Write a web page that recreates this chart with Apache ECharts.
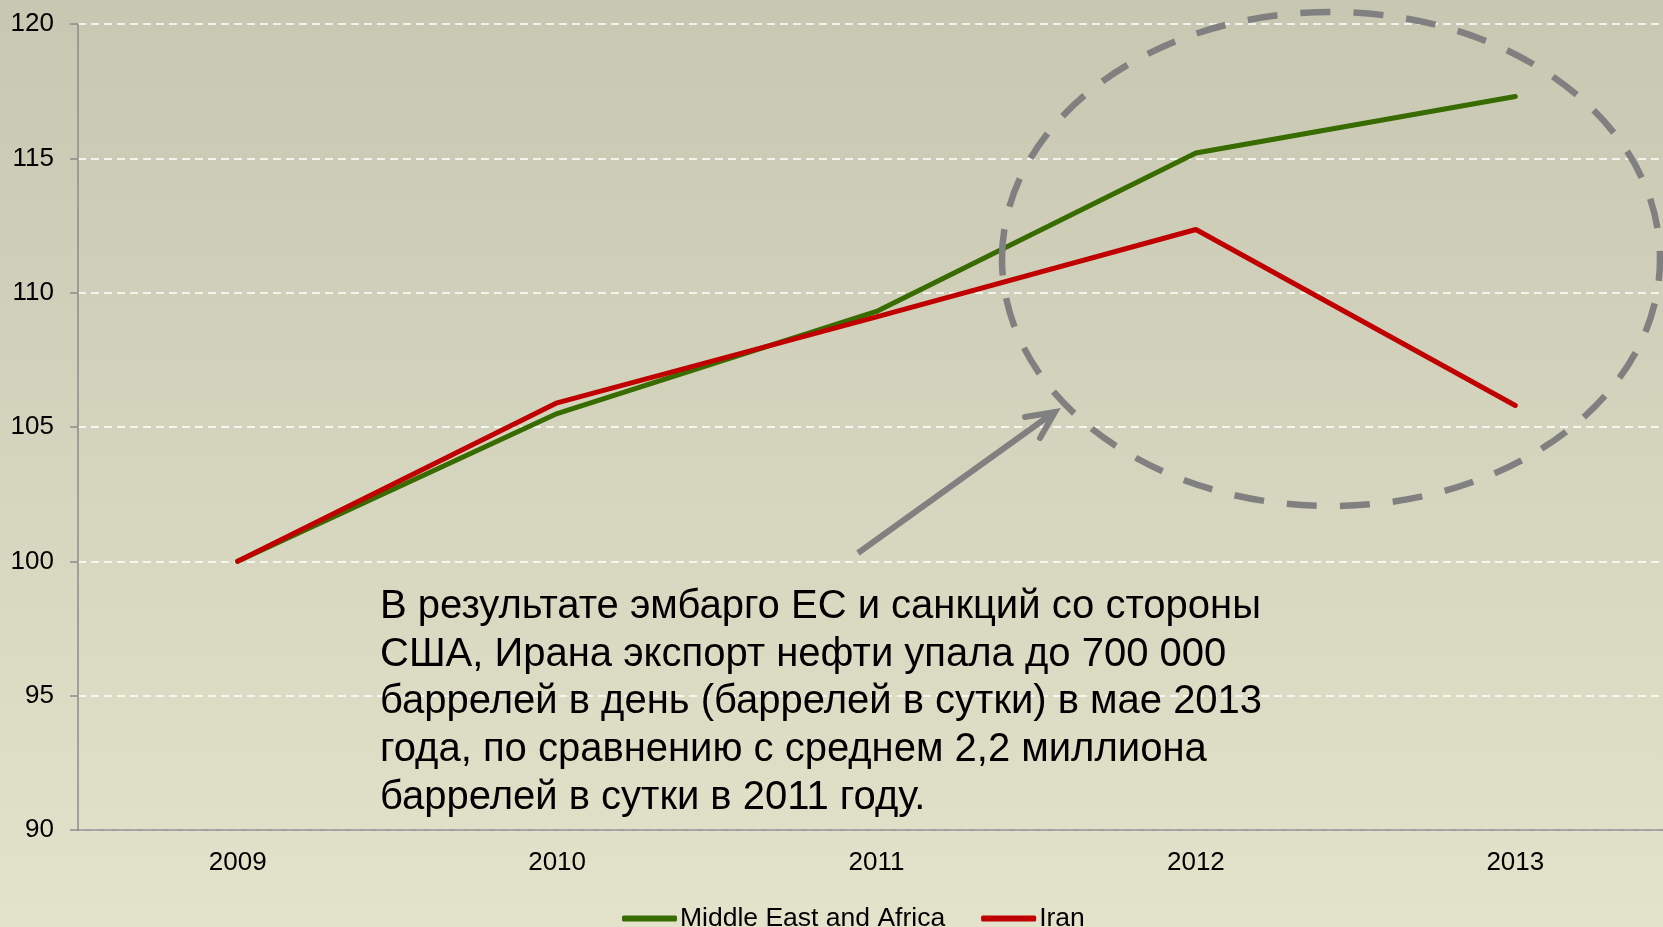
<!DOCTYPE html>
<html>
<head>
<meta charset="utf-8">
<title>Middle East and Africa vs Iran</title>
<script src="https://cdn.jsdelivr.net/npm/echarts@6/dist/echarts.min.js"></script>
<style>
  html, body { margin: 0; padding: 0; }
  #chart { width: 1663px; height: 927px; }
</style>
</head>
<body>
<div id="chart"></div>
<script>
// данные графика
const years = ['2009', '2010', '2011', '2012', '2013'];
const middleEastAfrica = [100, 105.5, 109.3, 115.2, 117.3];
const iran = [100, 105.9, 109.1, 112.35, 105.8];
const seriesNames = ['Middle East and Africa', 'Iran'];
const noteLines = [
  'В результате эмбарго ЕС и санкций со стороны',
  'США, Ирана экспорт нефти упала до 700 000',
  'баррелей в день (баррелей в сутки) в мае 2013',
  'года, по сравнению с среднем 2,2 миллиона',
  'баррелей в сутки в 2011 году.'
];

const FONT = '"Liberation Sans", Arial, sans-serif';
const GRAY = '#808080';

const chart = echarts.init(document.getElementById('chart'));

const option = {
  animation: false,
  backgroundColor: new echarts.graphic.LinearGradient(0, 0, 0, 1, [
    { offset: 0, color: '#c7c7b2' },
    { offset: 1, color: '#e3e3cb' }
  ]),
  textStyle: { fontFamily: FONT },
  // область построения выходит за правый край, как в оригинале
  grid: { left: 78, right: -12, top: 24, bottom: 97, outerBoundsMode: 'none', containLabel: false },
  legend: {
    data: seriesNames,
    left: 617,
    top: 900,
    icon: 'roundRect',
    itemWidth: 55,
    itemHeight: 6,
    itemGap: 36,
    textStyle: { fontSize: 26.5, color: '#000', fontFamily: FONT, padding: [0, 0, 0, -2] }
  },
  xAxis: {
    type: 'category',
    data: years,
    axisLine: { lineStyle: { color: '#8c8c8c', width: 1.5 } },
    axisTick: { length: 7, lineStyle: { color: '#8c8c8c', width: 1.5 } },
    axisLabel: { fontSize: 26, color: '#000', margin: 20 }
  },
  yAxis: {
    type: 'value',
    min: 90,
    max: 120,
    interval: 5,
    axisLine: { show: true, lineStyle: { color: '#8c8c8c', width: 1.5 } },
    axisTick: { show: true, length: 8, lineStyle: { color: '#8c8c8c', width: 1.5 } },
    axisLabel: { fontSize: 26, color: '#000', margin: 24 },
    splitLine: { lineStyle: { color: '#ffffff', width: 1.5, type: [8, 5] } }
  },
  series: [
    {
      name: seriesNames[0],
      type: 'line',
      data: middleEastAfrica,
      showSymbol: false,
      itemStyle: { color: '#386b00' },
      lineStyle: { color: '#386b00', width: 5, cap: 'round' }
    },
    {
      name: seriesNames[1],
      type: 'line',
      data: iran,
      showSymbol: false,
      itemStyle: { color: '#c00000' },
      lineStyle: { color: '#c00000', width: 5, cap: 'round' }
    }
  ],
  graphic: [
    // пунктирный эллипс вокруг 2012-2013
    {
      type: 'ellipse',
      z: 100,
      shape: { cx: 1331, cy: 259, rx: 329, ry: 247 },
      style: { fill: null, stroke: GRAY, lineWidth: 6.5, lineDash: [30, 23] }
    },
    // стрелка
    {
      type: 'polyline',
      z: 100,
      shape: { points: [[858, 553], [1053, 413]] },
      style: { stroke: GRAY, lineWidth: 6, fill: null }
    },
    {
      type: 'polyline',
      z: 100,
      shape: { points: [[1025, 417], [1055, 412], [1040, 438]] },
      style: { stroke: GRAY, lineWidth: 6, fill: null, lineCap: 'round', lineJoin: 'miter' }
    },
    // подпись
    {
      type: 'text',
      z: 100,
      left: 380,
      top: 583,
      style: {
        text: noteLines.join('\n'),
        fontSize: 40,
        fontFamily: FONT,
        lineHeight: 47.7,
        fill: '#000'
      }
    }
  ]
};

chart.setOption(option);
</script>
</body>
</html>
